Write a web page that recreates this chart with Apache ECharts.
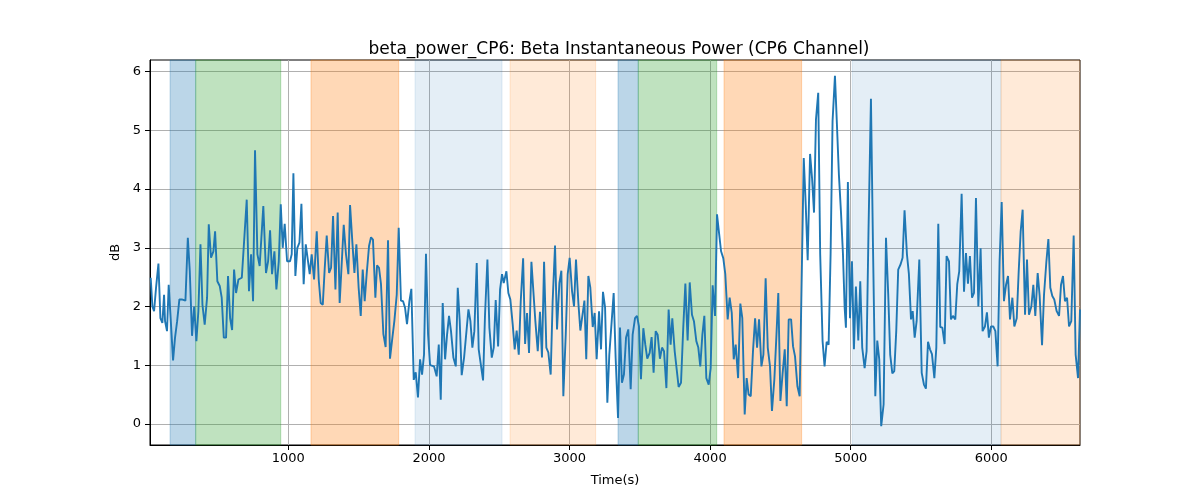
<!DOCTYPE html>
<html>
<head>
<meta charset="utf-8">
<script src="https://cdn.jsdelivr.net/npm/echarts@6/dist/echarts.min.js"></script>
<style>html,body{margin:0;padding:0;background:#fff}#c{width:1200px;height:500px}</style>
</head>
<body>
<div id="c"></div>
<script>
const times = [21,33,45,59,76,90,104,116,123,137,149,164,180,194,209,225,242,268,285,299,315,330,346,360,375,389,405,422,434,450,467,479,495,512,526,541,557,571,586,600,614,628,645,669,
675,704,720,735,749,763,780,796,822,841,856,870,884,901,915,932,946,960,974,991,1012,1024,1036,1050,1064,1079,1093,1109,1124,1138,1152,1166,1183,1202,1216,1230,1245,1259,1273,1290,1304,1318,1335,
1351,1365,1379,1394,1410,1427,1439,1455,1470,1484,1500,1515,1529,1543,1557,1574,1588,1602,1619,1631,1645,1659,1676,1692,1709,1723,1740,1754,1771,1785,1801,1816,1830,1844,1861,1875,1892,1906,1922,1937,1951,1965,1979,1994,2008,
2022,2036,2055,2070,2084,2098,2115,2129,2143,2157,2174,2191,2205,2219,2233,2250,2264,2281,2295,2309,2323,2340,2354,2368,2385,2399,2416,2430,2447,2461,2475,2492,2506,2520,2532,2551,2565,2579,2596,2610,2624,2639,2653,2670,2684,
2698,2712,2729,2743,2757,2774,2790,2804,2819,2835,2849,2866,2880,2897,2911,2928,2942,2956,2973,2987,3001,3018,3032,3046,3063,3077,3091,3106,3119,3134,3148,3165,3179,3193,3210,3224,3238,3253,3269,3283,3300,3314,3328,3345,3359,
3373,3387,3402,3418,3435,3449,3466,3480,3494,3508,3525,3539,3553,3570,3584,3598,3613,3627,3643,3658,3672,3689,3705,3719,3731,3748,3762,3776,3793,3809,3824,3840,3855,3871,3885,3902,3916,3930,3945,3959,3973,3990,4004,4018,4035,4049,4063,
4078,4094,4108,4125,4139,4154,4168,4182,4199,4215,4229,4246,4260,4274,4289,4305,4320,4334,4348,4365,4379,4395,4410,4426,4440,4457,4471,4485,4500,4516,4531,4545,4559,4576,4590,4604,4621,4637,4666,4680,4694,4711,4725,4739,
4753,4769,4783,4800,4814,4829,4843,4857,4871,4888,4902,4916,4931,4945,4957,4966,4980,4995,5009,5023,5037,5054,5068,5082,5099,5113,5127,5144,5158,5175,5189,5203,5217,5234,5251,5267,5281,5296,5310,5324,5338,5355,5369,5383,
5400,5414,5429,5441,5455,5469,5488,5505,5521,5535,5550,5564,5578,5595,5609,5623,5637,5652,5668,5682,5699,5713,5727,5744,5758,5772,5789,5806,5820,5834,5848,5863,5877,5891,5908,5924,5938,5955,5969,5983,5998,6014,6029,6045,6059,
6074,6090,6105,6119,6133,6150,6164,6181,6195,6209,6223,6240,6254,6268,6285,6299,6313,6330,6344,6361,6375,6392,6406,6420,6434,6448,6465,6482,6496,6510,6524,6539,6553,6569,6586,6600,6617,6631];

const values = [2.49,2.0,1.92,2.32,2.73,1.8,1.72,2.2,1.75,1.58,2.37,1.75,1.08,1.47,1.75,2.12,2.12,2.1,3.17,2.6,1.5,2.0,1.41,1.92,3.06,2.03,1.69,2.15,3.4,2.83,2.94,3.28,2.43,2.35,2.15,1.47,1.47,2.52,1.8,1.6,2.63,2.23,2.46,2.49,
2.48,3.82,2.26,2.89,2.09,4.66,2.89,2.69,3.71,2.57,2.77,3.3,2.55,2.94,2.29,2.77,3.74,3.0,3.41,2.77,2.77,2.89,4.27,2.52,3.0,3.09,3.75,2.38,3.06,3.05,2.55,2.89,2.46,3.28,2.46,2.06,2.03,2.66,3.21,2.57,2.66,3.54,2.29,
3.6,2.06,2.05,3.39,2.89,2.55,3.73,3.11,2.57,3.06,2.32,1.84,2.63,2.09,2.55,3.03,3.18,3.14,2.15,2.7,2.66,2.38,1.53,1.31,3.13,1.11,1.47,1.75,2.2,3.34,2.1,2.09,1.98,1.7,2.09,2.3,0.75,0.88,0.45,1.1,0.84,1.18,2.9,1.52,1.0,
1.01,0.98,0.81,1.35,0.41,2.06,1.1,1.52,1.84,1.58,1.13,0.98,2.32,1.75,0.83,1.13,1.14,1.95,1.75,1.3,1.58,2.74,1.27,1.3,0.74,1.86,2.8,1.64,1.13,1.3,2.11,1.32,2.29,2.55,2.4,2.6,2.23,2.12,1.69,1.27,1.59,1.18,2.09,2.82,1.36,
1.89,1.21,2.76,2.77,1.75,1.24,1.91,1.13,2.76,1.3,1.22,0.84,2.09,3.04,1.61,2.4,2.61,0.47,1.52,2.55,2.83,2.26,2.0,2.8,2.06,1.59,1.59,2.1,1.1,2.52,2.32,1.65,1.89,1.1,1.92,1.27,2.25,1.98,0.36,1.18,1.75,2.23,1.13,0.1,1.64,
0.7,0.84,1.47,1.61,0.59,1.52,1.8,1.84,1.66,0.76,1.63,1.35,1.11,1.21,1.48,0.87,1.58,1.52,1.11,1.3,1.24,0.61,1.95,1.35,1.8,1.24,1.21,0.63,0.7,1.64,2.39,1.42,2.41,1.86,1.75,1.41,1.3,0.98,1.52,1.84,0.78,0.67,0.95,2.36,1.84,3.57,3.54,
2.94,2.82,2.55,1.78,2.15,1.89,1.1,1.35,0.78,2.05,1.8,0.16,0.78,0.5,0.47,1.24,1.8,1.3,1.78,0.98,1.18,2.48,1.3,0.98,0.22,0.76,1.47,2.23,0.39,0.87,1.27,0.3,1.78,1.78,1.32,1.15,0.64,0.47,4.53,3.74,2.79,4.6,4.19,3.6,
5.19,5.64,2.89,1.41,0.98,1.4,1.35,2.89,5.16,5.93,5.1,4.25,3.6,2.89,1.98,1.64,4.12,1.8,2.77,1.27,2.34,1.42,2.43,1.3,0.95,1.24,3.34,5.54,3.11,0.47,1.42,1.1,-0.04,0.33,3.17,2.2,1.18,0.86,0.9,1.58,2.63,2.72,2.83,3.64,
2.89,2.55,1.78,1.92,1.47,1.75,2.8,0.87,0.67,0.6,1.4,1.27,1.19,0.78,1.3,3.41,1.65,1.64,1.36,2.86,2.77,1.78,1.84,1.78,2.38,2.6,3.92,2.25,2.91,2.39,2.86,2.15,2.23,3.85,2.0,2.99,1.58,1.66,1.9,1.47,1.66,1.66,1.58,0.98,2.77,
3.78,2.09,2.37,2.52,1.78,2.15,1.66,1.8,2.6,3.28,3.65,1.86,2.8,1.86,2.0,2.37,1.84,2.57,2.18,1.34,2.2,2.77,3.15,2.32,2.18,2.12,1.92,1.84,2.37,2.52,2.09,2.15,1.66,1.75,3.21,1.18,0.78,1.95];

const bandStarts = [159, 341, 1161, 1901, 2577, 3345, 3489, 4099, 5011, 6069];
const bandEnds   = [341, 946, 1785, 2520, 3186, 3489, 4047, 4651, 6069, 6631];
const bandKinds  = ['blue','green','orange','lightblue','lightorange','blue','green','orange','lightblue','lightorange'];

const xTicks = [1000, 2000, 3000, 4000, 5000, 6000];
const yTicks = [0, 1, 2, 3, 4, 5, 6];

const kindColor = {
  blue: 'rgba(31,119,180,0.3)',
  green: 'rgba(44,160,44,0.3)',
  orange: 'rgba(255,127,14,0.3)',
  lightblue: 'rgba(31,119,180,0.12)',
  lightorange: 'rgba(255,127,14,0.16)'
};

const seriesData = times.map((t, i) => [t, values[i]]);
const areas = bandStarts.map((s, i) => [
  {xAxis: s, itemStyle: {color: kindColor[bandKinds[i]], borderColor: kindColor[bandKinds[i]], borderWidth: 1}},
  {xAxis: bandEnds[i]}
]);

const font = 'DejaVu Sans';
const chart = echarts.init(document.getElementById('c'), null, {renderer: 'canvas'});
chart.setOption({
  animation: false,
  backgroundColor: '#fff',
  title: {
    text: 'beta_power_CP6: Beta Instantaneous Power (CP6 Channel)',
    left: 614, top: 36, textAlign: 'center',
    textStyle: {fontFamily: font, fontSize: 17, fontWeight: 'normal', color: '#000'}
  },
  grid: {left: 150, right: 120, top: 60, bottom: 55, show: true, borderColor: '#000', borderWidth: 1, backgroundColor: 'transparent'},
  xAxis: {
    type: 'value', min: 16, max: 6631,
    name: 'Time(s)', nameLocation: 'middle', nameGap: 29,
    nameTextStyle: {fontFamily: font, fontSize: 13, color: '#000'},
    axisLine: {show: true, onZero: false, lineStyle: {color: '#000', width: 1}},
    axisTick: {show: true, length: 5, customValues: xTicks, lineStyle: {color: '#000'}},
    axisLabel: {customValues: xTicks, formatter: v => String(v), fontFamily: font, fontSize: 13, color: '#000', margin: 7},
    splitLine: {show: true, lineStyle: {color: '#b0b0b0', width: 1}}
  },
  yAxis: {
    type: 'value', min: -0.36, max: 6.2,
    name: 'dB', nameLocation: 'middle', nameGap: 27,
    nameTextStyle: {fontFamily: font, fontSize: 13, color: '#000'},
    axisLine: {show: true, onZero: false, lineStyle: {color: '#000', width: 1}},
    axisTick: {show: true, length: 5, customValues: yTicks, lineStyle: {color: '#000'}},
    axisLabel: {customValues: yTicks, formatter: v => String(v), fontFamily: font, fontSize: 13, color: '#000', margin: 9},
    splitLine: {show: true, lineStyle: {color: '#b0b0b0', width: 1}}
  },
  series: [{
    type: 'line',
    data: seriesData,
    showSymbol: false,
    lineStyle: {color: '#1f77b4', width: 1.9},
    itemStyle: {color: '#1f77b4'},
    z: 3,
    markArea: {silent: true, data: areas, z: 1}
  }]
});
</script>
</body>
</html>
